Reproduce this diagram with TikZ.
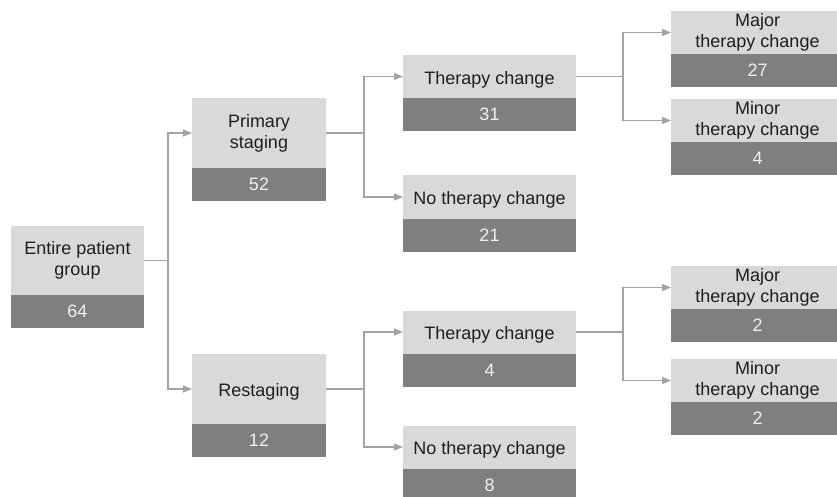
\documentclass[tikz,border=0pt]{standalone}
\usepackage{fontspec}
\setmainfont{Liberation Sans}
\usetikzlibrary{positioning,arrows.meta}

\definecolor{boxlight}{HTML}{D9D9D9}
\definecolor{boxdark}{HTML}{7F7F7F}
\definecolor{linkgray}{HTML}{A3A3A3}
\definecolor{numwhite}{HTML}{F0F0F0}
\definecolor{textdark}{HTML}{1E1E1E}

\begin{document}
\begin{tikzpicture}[x=1pt,y=-1pt,
  every node/.style={inner sep=0pt,outer sep=0pt,align=center,
    font=\fontsize{18}{21}\selectfont},
  head/.style={fill=boxlight,text=textdark,
    execute at begin node={\rule{0pt}{19pt}}},
  count/.style={fill=boxdark,text=numwhite,minimum height=33pt},
  link/.style={draw=linkgray,line width=1.5pt,-{Triangle[length=9pt,width=7pt]}},
  trunk/.style={draw=linkgray,line width=1.5pt}]
\pgfmathsetmacro{\wa}{134}
\pgfmathsetmacro{\wb}{173}

\useasboundingbox (0,0) rectangle (837,497);

% Column 1
\node[head,minimum width=133pt,minimum height=69pt] (entire) at (77.5,260.5) {Entire patient\\group};
\node[count,minimum width=133pt,below=0pt of entire] (entireN) {64};

% Column 2
\node[head,minimum width=\wa pt,minimum height=70pt] (primary) at (259,133) {Primary\\staging};
\node[count,minimum width=\wa pt,below=0pt of primary] (primaryN) {52};
\node[head,minimum width=\wa pt,minimum height=70pt] (restaging) at (259,389) {Restaging};
\node[count,minimum width=\wa pt,below=0pt of restaging] (restagingN) {12};

% Column 3
\begin{scope}[every node/.append style={minimum width=\wb pt}]
\node[head,minimum height=43pt] (changeA) at (489.5,76.5) {Therapy change};
\node[count,below=0pt of changeA] (changeAN) {31};
\node[head,minimum height=43pt] (nochangeA) at (489.5,197) {No therapy change};
\node[count,below=0pt of nochangeA] (nochangeAN) {21};
\node[head,minimum height=43pt] (changeB) at (489.5,332) {Therapy change};
\node[count,below=0pt of changeB] (changeBN) {4};
\node[head,minimum height=43pt] (nochangeB) at (489.5,447) {No therapy change};
\node[count,below=0pt of nochangeB] (nochangeBN) {8};
\end{scope}

% Column 4
\begin{scope}[every node/.append style={minimum width=\wb pt}]
\node[head,minimum height=43pt] (majorA) at (757.5,32.5) {Major\\therapy change};
\node[count,below=0pt of majorA] (majorAN) {27};
\node[head,minimum height=43pt] (minorA) at (757.5,120.5) {Minor\\therapy change};
\node[count,below=0pt of minorA] (minorAN) {4};
\node[head,minimum height=43pt] (majorB) at (757.5,287.5) {Major\\therapy change};
\node[count,below=0pt of majorB] (majorBN) {2};
\node[head,minimum height=43pt] (minorB) at (757.5,380.5) {Minor\\therapy change};
\node[count,below=0pt of minorB] (minorBN) {2};
\end{scope}

% Connectors
\draw[trunk] (entire.east) -- ++(24,0);
\draw[link] (entire.east) ++(24,0) |- (primary.west);
\draw[link] (entire.east) ++(24,0) |- (restaging.west);

\draw[trunk] (primary.east) -- ++(38,0);
\draw[link] (primary.east) ++(38,0) |- (changeA.west);
\draw[link] (primary.east) ++(38,0) |- (nochangeA.west);

\draw[trunk] (restaging.east) -- ++(38,0);
\draw[link] (restaging.east) ++(38,0) |- (changeB.west);
\draw[link] (restaging.east) ++(38,0) |- (nochangeB.west);

\draw[trunk] (changeA.east) -- ++(47,0);
\draw[link] (changeA.east) ++(47,0) |- (majorA.west);
\draw[link] (changeA.east) ++(47,0) |- (minorA.west);

\draw[trunk] (changeB.east) -- ++(47,0);
\draw[link] (changeB.east) ++(47,0) |- (majorB.west);
\draw[link] (changeB.east) ++(47,0) |- (minorB.west);

\end{tikzpicture}
\end{document}
